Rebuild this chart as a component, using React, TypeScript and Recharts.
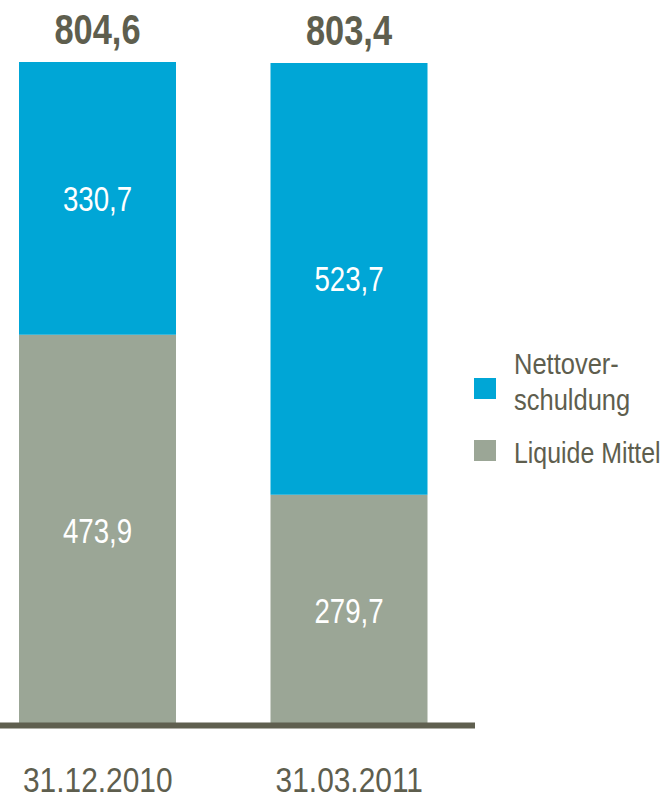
import React from 'react';
import { BarChart, Bar, XAxis, YAxis, LabelList } from 'recharts';

const dates = ['31.12.2010', '31.03.2011'];
const liquideMittel = [473.9, 279.7];
const nettoverschuldung = [330.7, 523.7];
const totals = [804.6, 803.4];
const legendNettoLines = ['Nettover-', 'schuldung'];
const legendLiquide = 'Liquide Mittel';

const data = dates.map((date, i) => ({
    date,
    liquide: liquideMittel[i],
    netto: nettoverschuldung[i],
    total: totals[i],
}));

// no Arial Narrow here, so squeeze Liberation Sans horizontally
const FONT = '"Liberation Sans", Arial, sans-serif';
const BLUE = '#00a6d6';
const GRAY = '#9ba696';
const DARK = '#5e5e4e';

const fmt = (v: number) => v.toFixed(1).replace('.', ',');

const NarrowText = ({ x, y, text, size, fill, bold = false, squeeze = 0.82, anchor = 'middle' }: any) => (
    <text
        transform={`translate(${x},${y}) scale(${squeeze},1)`}
        textAnchor={anchor}
        fontFamily={FONT}
        fontSize={size}
        fontWeight={bold ? 'bold' : 'normal'}
        fill={fill}
    >
        {text}
    </text>
);

const CenterLabel = (props: any) => {
    const { x, y, width, height, value } = props;
    const top = Math.min(y, y + height);
    const h = Math.abs(height);
    return <NarrowText x={x + width / 2} y={top + h / 2 + 35 * 0.358} text={fmt(Number(value))} size={35} fill="#fff" squeeze={0.79} />;
};

const TotalLabel = (props: any) => {
    const { x, y, width, height, value } = props;
    const top = Math.min(y, y + height);
    return <NarrowText x={x + width / 2} y={top - 18} text={fmt(Number(value))} size={42} fill={DARK} bold squeeze={0.82} />;
};

const DateTick = (props: any) => {
    const { x, y, payload } = props;
    return <NarrowText x={x} y={y + 26} text={payload.value} size={36} fill={DARK} squeeze={0.83} />;
};

const ChartLegend = () => (
    <svg width={668} height={796} style={{ position: 'absolute', left: 0, top: 0, pointerEvents: 'none' }}>
        <rect x={474} y={378} width={22} height={21} fill={BLUE} />
        {legendNettoLines.map((t, i) => (
            <NarrowText key={t} x={514} y={374 + i * 36} text={t} size={30} fill={DARK} squeeze={0.85} anchor="start" />
        ))}
        <rect x={474} y={440} width={22} height={21} fill={GRAY} />
        <NarrowText x={514} y={463} text={legendLiquide} size={30} fill={DARK} squeeze={0.83} anchor="start" />
    </svg>
);

const App: React.FC = () => {
    return (
        <div style={{ position: 'absolute', left: 0, top: 0, width: 668, height: 796, background: '#fff' }}>
            <BarChart
                width={668}
                height={796}
                data={data}
                barSize={157}
                margin={{ top: 62, right: 193, left: -28, bottom: 0 }}
            >
                <YAxis hide domain={[0, 804.6]} allowDataOverflow />
                <Bar dataKey="liquide" stackId="a" fill={GRAY} isAnimationActive={false}>
                    <LabelList dataKey="liquide" content={<CenterLabel />} />
                </Bar>
                <Bar dataKey="netto" stackId="a" fill={BLUE} isAnimationActive={false}>
                    <LabelList dataKey="netto" content={<CenterLabel />} />
                    <LabelList dataKey="total" content={<TotalLabel />} />
                </Bar>
                <XAxis
                    dataKey="date"
                    height={70.5}
                    tickLine={false}
                    tickSize={0}
                    tickMargin={40}
                    axisLine={{ stroke: '#5f5f4f', strokeWidth: 6 }}
                    tick={<DateTick />}
                />
            </BarChart>
            <ChartLegend />
        </div>
    );
};

export default App;
